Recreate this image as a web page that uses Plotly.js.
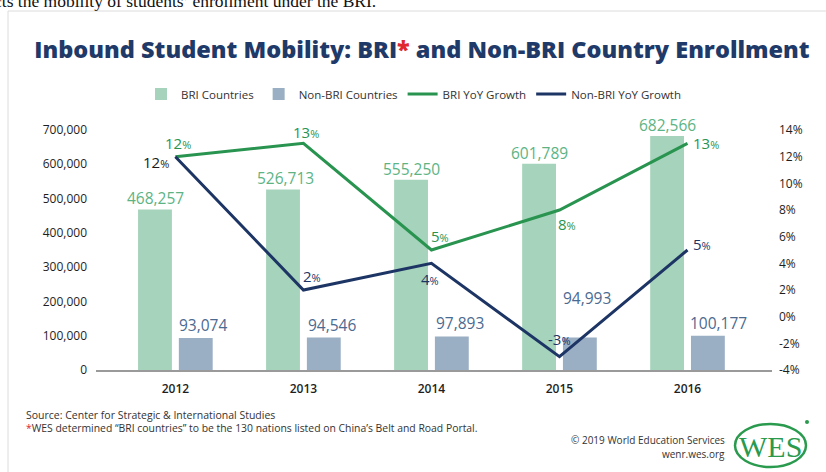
<!DOCTYPE html>
<html>
<head>
<meta charset="utf-8">
<script src="https://cdn.plot.ly/plotly-3.0.1.min.js"></script>
<style>html,body{margin:0;padding:0;background:#fff;}#chart{width:826px;height:472px;}</style>
</head>
<body>
<div id="chart"></div>
<script>
// ---- data ----
const years = ['2012', '2013', '2014', '2015', '2016'];
const briEnrollment = [468257, 526713, 555250, 601789, 682566];
const nonBriEnrollment = [93074, 94546, 97893, 94993, 100177];
const briGrowth = [12, 13, 5, 8, 13];
const nonBriGrowth = [12, 2, 4, -3, 5];
const leftTicks = [0, 100000, 200000, 300000, 400000, 500000, 600000, 700000];
const rightTicks = [-4, -2, 0, 2, 4, 6, 8, 10, 12, 14];

// ---- styling ----
const C = {
  briBar: '#a5d3bb', nonBriBar: '#9aaec4',
  briLine: '#28944f', nonBriLine: '#1d3564',
  briBarLabel: '#5cb484', nonBriBarLabel: '#4b6a91',
  title: '#1f3a68', text: '#1e1e1e'
};
const FONT = 'Open Sans, Liberation Sans, sans-serif';
const L = 96, R = 772, T = 130, B = 370;
const px = v => (v - L) / (R - L);
const py = v => (B - v) / (B - T);

const traces = [
  {type: 'bar', name: 'BRI Countries', x: years, y: briEnrollment,
   marker: {color: C.briBar}, yaxis: 'y', hoverinfo: 'skip'},
  {type: 'bar', name: 'Non-BRI Countries', x: years, y: nonBriEnrollment,
   marker: {color: C.nonBriBar}, yaxis: 'y', hoverinfo: 'skip'},
  {type: 'scatter', mode: 'lines', name: 'BRI YoY Growth', x: years, y: briGrowth,
   line: {color: C.briLine, width: 3}, yaxis: 'y2', cliponaxis: false},
  {type: 'scatter', mode: 'lines', name: 'Non-BRI YoY Growth', x: years, y: nonBriGrowth,
   line: {color: C.nonBriLine, width: 3}, yaxis: 'y2', cliponaxis: false}
];

const ann = [];
const fmt = n => n.toLocaleString('en-US');
const pct = v => String(v) + '<span style="font-size:11px">%</span>';

// bar value labels
const briShift = [[-20, 11], [-18, 11], [-20, 11], [-20, 11], [-20, 11]];
const nonShift = [[28, 13], [29, 13], [29, 13], [28, 39], [31, 13]];
years.forEach((yr, i) => {
  ann.push({xref: 'x', yref: 'y', x: i, y: briEnrollment[i], xshift: briShift[i][0], yshift: briShift[i][1],
    text: fmt(briEnrollment[i]), showarrow: false, yanchor: 'middle', xanchor: 'center',
    font: {family: FONT, size: 15.5, color: C.briBarLabel}});
  ann.push({xref: 'x', yref: 'y', x: i, y: nonBriEnrollment[i], xshift: nonShift[i][0], yshift: nonShift[i][1],
    text: fmt(nonBriEnrollment[i]), showarrow: false, yanchor: 'middle', xanchor: 'center',
    font: {family: FONT, size: 15.5, color: C.nonBriBarLabel}});
});
// growth labels
const briLab = [[3, 14], [3, 11], [9, 14], [8, -14], [18, 0]];
const nonLab = [[-19, -5], [9, 14], [-1, -16], [0, 18], [14, 6]];
const nonCol = ['#1a1a1a', C.nonBriLine, C.nonBriLine, C.nonBriLine, C.nonBriLine];
years.forEach((yr, i) => {
  ann.push({xref: 'x', yref: 'y2', x: i, y: briGrowth[i], xshift: briLab[i][0], yshift: briLab[i][1],
    text: pct(briGrowth[i]), showarrow: false, yanchor: 'middle', xanchor: 'center',
    font: {family: FONT, size: 15, color: C.briLine}});
  ann.push({xref: 'x', yref: 'y2', x: i, y: nonBriGrowth[i], xshift: nonLab[i][0], yshift: nonLab[i][1],
    text: pct(nonBriGrowth[i]), showarrow: false, yanchor: 'middle', xanchor: 'center',
    font: {family: FONT, size: 15, color: nonCol[i]}});
});

// page text
ann.push({xref: 'paper', yref: 'paper', x: px(378), y: py(13), xanchor: 'right', yanchor: 'bottom',
  text: 'reflects the mobility of students’ enrollment under the BRI.', showarrow: false,
  font: {family: 'Liberation Serif, serif', size: 17.5, color: '#111'}});
ann.push({xref: 'paper', yref: 'paper', x: px(24), y: py(415), xanchor: 'left', yanchor: 'middle',
  text: 'Source: Center for Strategic & International Studies', showarrow: false,
  font: {family: FONT, size: 10.5, color: '#333'}});
ann.push({xref: 'paper', yref: 'paper', x: px(24), y: py(428), xanchor: 'left', yanchor: 'middle',
  text: '<span style="color:#e0262f">*</span>WES determined “BRI countries” to be the 130 nations listed on China’s Belt and Road Portal.',
  showarrow: false, font: {family: FONT, size: 10.4, color: '#333'}});
ann.push({xref: 'paper', yref: 'paper', x: px(727), y: py(440), xanchor: 'right', yanchor: 'middle',
  text: '© 2019 World Education Services', showarrow: false,
  font: {family: FONT, size: 10, color: '#333'}});
ann.push({xref: 'paper', yref: 'paper', x: px(727), y: py(454), xanchor: 'right', yanchor: 'middle',
  text: 'wenr.wes.org', showarrow: false, font: {family: FONT, size: 10, color: '#333'}});
ann.push({xref: 'paper', yref: 'paper', x: px(770), y: py(446), xanchor: 'center', yanchor: 'middle',
  text: 'WES', showarrow: false, font: {family: 'Liberation Serif, serif', size: 30, color: '#2a9a4e'}});

const shapes = [
  {type: 'line', xref: 'paper', yref: 'paper', x0: px(8), x1: px(8), y0: py(11), y1: py(480), line: {color: '#dcdcdc', width: 1}},
  {type: 'line', xref: 'paper', yref: 'paper', x0: px(8), x1: px(830), y0: py(11), y1: py(11), line: {color: '#dcdcdc', width: 1}},
  {type: 'circle', xref: 'paper', yref: 'paper', x0: px(735), x1: px(806), y0: py(424), y1: py(467), line: {color: '#2a9a4e', width: 2.5}},
  {type: 'circle', xref: 'paper', yref: 'paper', x0: px(805), x1: px(809), y0: py(420), y1: py(424), fillcolor: '#2a9a4e', line: {width: 0}}
];

const layout = {
  width: 826, height: 472,
  margin: {l: L, r: 826 - R, t: T, b: 472 - B, pad: 0},
  paper_bgcolor: '#fff', plot_bgcolor: '#fff',
  font: {family: FONT, color: C.text},
  title: {text: 'Inbound Student Mobility: BRI<span style="color:#e0262f">*</span> and Non-BRI Country Enrollment',
    font: {family: FONT, size: 23.5, color: C.title, weight: 800},
    x: 422 / 826, xanchor: 'center', xref: 'container', y: 1 - 50 / 472, yanchor: 'middle', yref: 'container'},
  barmode: 'group', bargap: 0.363, bargroupgap: 0.17,
  showlegend: true,
  legend: {orientation: 'h', x: px(141), xanchor: 'left', y: py(94), yanchor: 'middle',
    font: {family: FONT, size: 11.5, color: '#333'}, bgcolor: 'rgba(0,0,0,0)'},
  xaxis: {type: 'category', range: [-0.62, 4.66], showgrid: false, zeroline: false,
    showline: true, linecolor: '#9a9a9a', linewidth: 1.5, ticks: '',
    tickfont: {family: FONT, size: 12, color: C.text, weight: 600}, ticklabelstandoff: 7},
  yaxis: {range: [0, 700000], tickvals: leftTicks, ticktext: leftTicks.map(fmt),
    showgrid: false, zeroline: false, showline: false, ticks: '',
    tickfont: {family: FONT, size: 12, color: C.text, weight: 500}, ticklabelstandoff: 8},
  yaxis2: {overlaying: 'y', side: 'right', range: [-4, 14], tickvals: rightTicks,
    ticktext: rightTicks.map(v => v + '%'), showgrid: false, zeroline: false, showline: false, ticks: '',
    tickfont: {family: FONT, size: 12, color: C.text, weight: 500}, ticklabelstandoff: 6},
  annotations: ann,
  shapes: shapes
};

Plotly.newPlot('chart', traces, layout, {displayModeBar: false, staticPlot: true});
</script>
</body>
</html>
